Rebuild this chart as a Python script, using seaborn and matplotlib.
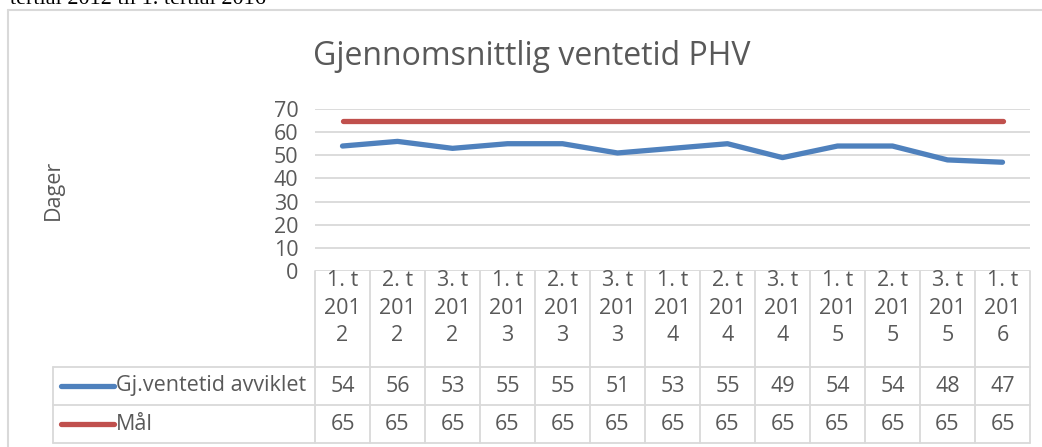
import numpy as np
import pandas as pd
import matplotlib
matplotlib.use("Agg")
import matplotlib.pyplot as plt
import seaborn as sns
from matplotlib.lines import Line2D

# --- dati ---
periods = ["1. t\n201\n2", "2. t\n201\n2", "3. t\n201\n2",
           "1. t\n201\n3", "2. t\n201\n3", "3. t\n201\n3",
           "1. t\n201\n4", "2. t\n201\n4", "3. t\n201\n4",
           "1. t\n201\n5", "2. t\n201\n5", "3. t\n201\n5",
           "1. t\n201\n6"]
ventetid = [54, 56, 53, 55, 55, 51, 53, 55, 49, 54, 54, 48, 47]
maal = [65] * 13
series_names = ["Gj.ventetid avviklet", "Mål"]
colors = ["#4F81BD", "#C0504D"]
yticks = [0, 10, 20, 30, 40, 50, 60, 70]

W, H = 1042, 447
GRID = "#D9D9D9"
TXT = "#595959"
FS = 15.5

sns.set_theme(style="white")
plt.rcParams["font.family"] = ["Open Sans", "DejaVu Sans"]

df = pd.DataFrame({
    "idx": list(range(len(periods))) * 2,
    "value": ventetid + maal,
    "serie": [series_names[0]] * len(periods) + [series_names[1]] * len(periods),
})

fig = plt.figure(figsize=(W / 100, H / 100), dpi=100)
fig.patch.set_facecolor("white")

# area del grafico (pixel: x 315-1030, y 109-271)
ax = fig.add_axes([315 / W, 1 - 271 / H, 715 / W, (271 - 109) / H])
sns.lineplot(data=df, x="idx", y="value", hue="serie", palette=colors,
             linewidth=3.8, ax=ax, legend=False, solid_capstyle="round")
ax.set_xlim(-0.5, len(periods) - 0.5)
ax.set_ylim(0, 70)
ax.set_yticks(yticks)
ax.set_xticks([])
ax.set_xlabel("")
ax.set_ylabel("")
for s in ax.spines.values():
    s.set_visible(False)
ax.grid(axis="y", color=GRID, linewidth=1.3)
ax.set_axisbelow(True)
ax.tick_params(axis="y", length=0, pad=12, labelsize=FS, labelcolor=TXT)
for ln in ax.lines:
    ln.set_clip_on(False)

# tabella dati sotto il grafico
col_w = 55
px2x = lambda p: -0.5 + (p - 315) / col_w
tab = fig.add_axes([53 / W, 1 - 443 / H, (1030 - 53) / W, (443 - 271) / H])
tab.set_xlim(px2x(53), len(periods) - 0.5)
tab.set_ylim(172, 0)
tab.axis("off")

n = len(periods)
for i in range(n + 1):
    tab.plot([i - 0.5, i - 0.5], [0, 172], color=GRID, lw=1.3, clip_on=False)
tab.plot([px2x(53), px2x(53)], [96, 172], color=GRID, lw=1.3, clip_on=False)
for yy in [96, 134, 172]:
    tab.plot([px2x(53), n - 0.5], [yy, yy], color=GRID, lw=1.3, clip_on=False)

for i, lab in enumerate(periods):
    tab.text(i, 37, lab, ha="center", va="center", fontsize=FS, color=TXT,
             linespacing=1.38)
for row_y, vals in [(115, ventetid), (153, maal)]:
    for i, v in enumerate(vals):
        tab.text(i, row_y, f"{v:.0f}", ha="center", va="center", fontsize=FS, color=TXT)

for row_y, name, c in [(115, series_names[0], colors[0]), (153, series_names[1], colors[1])]:
    tab.plot([px2x(61), px2x(114)], [row_y, row_y], color=c, lw=3.8,
             solid_capstyle="round", clip_on=False)
    tab.text(px2x(116), row_y, name, ha="left", va="center", fontsize=FS, color=TXT)

# testi
fig.text(532 / W, 1 - 65 / H, "Gjennomsnittlig ventetid PHV", ha="center",
         va="baseline", fontsize=23, color=TXT)
fig.text(53 / W, 1 - 190 / H, "Dager", rotation=90, ha="center", va="center",
         fontsize=FS, color=TXT)
fig.text(10 / W, 1 - 4 / H, "tertial 2012 til 1. tertial 2016", ha="left",
         va="baseline", fontsize=16, color="black", family="Liberation Serif")

# cornice esterna
fig.add_artist(Line2D([8 / W, 8 / W], [0, 1 - 10 / H], transform=fig.transFigure,
                      color=GRID, lw=1.5))
fig.add_artist(Line2D([8 / W, 1], [1 - 10 / H, 1 - 10 / H], transform=fig.transFigure,
                      color=GRID, lw=1.5))

fig.savefig("out.png", dpi=100)
